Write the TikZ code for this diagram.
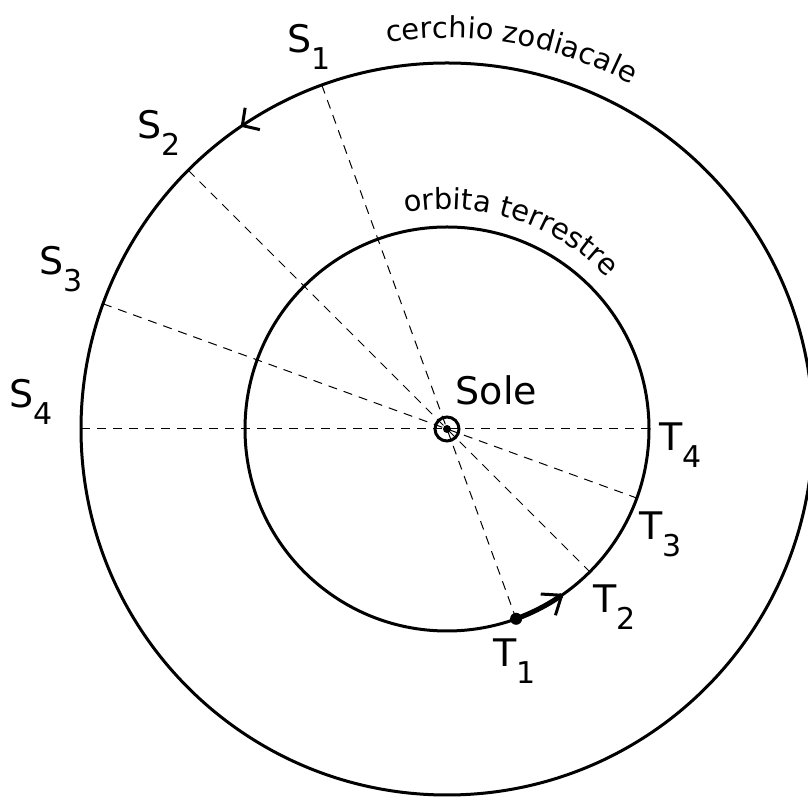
\documentclass[tikz,border=0pt]{standalone}
\usepackage{fontspec}
\setmainfont{DejaVu Sans}
\usetikzlibrary{calc,decorations.text}
\newcommand{\lbl}[2]{#1\raisebox{-17pt}{\fontsize{30}{30}\selectfont #2}}
\newcommand{\curvefont}{\fontsize{29}{29}\selectfont}
\begin{document}
\begin{tikzpicture}[x=1pt,y=1pt,
  orbit/.style={line width=3pt},
  dashline/.style={line width=1pt, dash pattern=on 9pt off 7pt},
  lab/.style={anchor=base west, inner sep=0pt, font=\fontsize{38}{38}\selectfont},
  barb/.style={line width=3pt, line join=miter}]
\useasboundingbox (0,0) rectangle (808,797);
\clip (0,0) rectangle (808,797);
\coordinate (C) at (447,368);
% dashed sight lines
\foreach \k/\a/\b in {1/-70/110, 2/-45/135, 3/-20/160, 4/0/180}{
  \coordinate (t\k) at ($(C)+(\a:202)$);
  \coordinate (s\k) at ($(C)+(\b:366)$);
  \draw[dashline] (s\k) -- (t\k);
}
% circles
\draw[orbit] (C) circle[radius=366];
\draw[orbit] (C) circle[radius=202];
% sun
\node[draw, circle, line width=3pt, minimum size=24pt, inner sep=0pt] (sun) at (C) {};
\node[circle, fill, minimum size=8pt, inner sep=0pt] (sundot) at (C) {};
% earth motion
\draw[line width=5pt] (t1) arc[start angle=-70, end angle=-55.4, radius=202];
\node[circle, fill, minimum size=12pt, inner sep=0pt] (dotT1) at (t1) {};
\coordinate (aI) at ($(C)+(-55.4:202)$);
\draw[barb] ($(aI)+(176.6:21)$) -- (aI) -- ($(aI)+(252.6:21)$);
% zodiac arrow
\coordinate (aO) at ($(C)+(124:366)$);
\draw[barb] ($(aO)+(81:18)$) -- (aO) -- ($(aO)+(-13:18)$);
% labels
\node[lab] (lS1) at (287.5,744) {\lbl{S}{1}};
\node[lab] (lS2) at (137.5,658) {\lbl{S}{2}};
\node[lab] (lS3) at (39.5,522) {\lbl{S}{3}};
\node[lab] (lS4) at (9.5,389) {\lbl{S}{4}};
\node[lab] (lSole) at (455.5,392) {Sole};
\node[lab] (lT4) at (659,346) {\lbl{T}{4}};
\node[lab] (lT3) at (639,257) {\lbl{T}{3}};
\node[lab] (lT2) at (593,184) {\lbl{T}{2}};
\node[lab] (lT1) at (493,130) {\lbl{T}{1}};
% curved captions
\path[decorate, decoration={text along path, text={|\curvefont|cerchio zodiacale}, text align=left}]
  ($(C)+(98.8:391)$) arc[start angle=98.8, end angle=50, radius=391];
\path[decorate, decoration={text along path, text={|\curvefont|orbita terrestre}, text align=left}]
  ($(C)+(101:220)$) arc[start angle=101, end angle=30, radius=220];
\end{tikzpicture}
\end{document}
